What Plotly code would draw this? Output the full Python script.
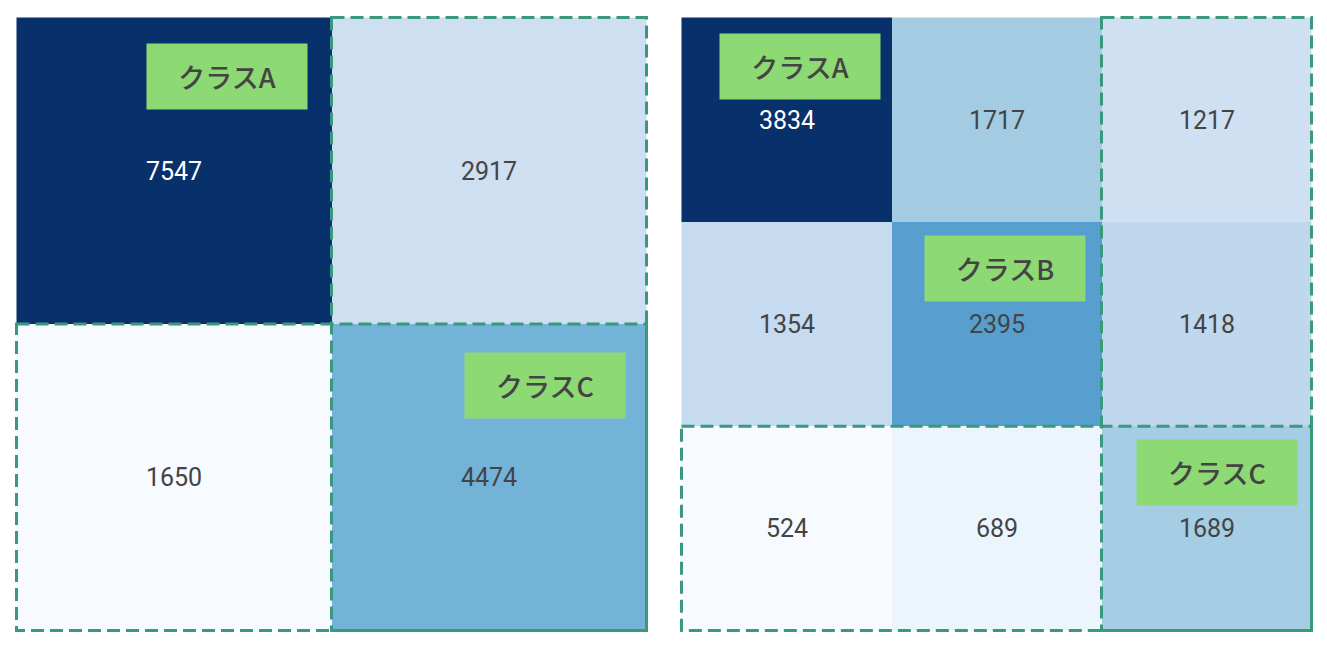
import plotly.graph_objects as go
from plotly.subplots import make_subplots

# Left matrix (2 classes)
left_labels = ["クラスA", "クラスC"]
left_values = [[7547, 2917],
               [1650, 4474]]
# Right matrix (3 classes)
right_labels = ["クラスA", "クラスB", "クラスC"]
right_values = [[3834, 1717, 1217],
                [1354, 2395, 1418],
                [524, 689, 1689]]

LINE = "#3a987c"
DASH = "13px,6px"
GREEN = "#8dd973"

fig = make_subplots(rows=1, cols=2, horizontal_spacing=0.02465)

def add_matrix(vals, labels, col, lab_dx, lab_dy):
    n = len(vals)
    fig.add_trace(go.Heatmap(
        z=vals, x=list(range(n)), y=list(range(n)),
        colorscale="Blues", showscale=False,
        texttemplate="%{z}", textfont=dict(size=25, family="Roboto"),
        hoverinfo="skip"), row=1, col=col)
    xref = "x" if col == 1 else f"x{col}"
    yref = "y" if col == 1 else f"y{col}"
    last = n - 1
    # dashed rectangle around last row
    fig.add_shape(type="rect", xref=xref, yref=yref,
                  x0=-0.5, x1=last + 0.5, y0=last - 0.5, y1=last + 0.5,
                  line=dict(color=LINE, width=3, dash=DASH), layer="above")
    # dashed rectangle around last column
    fig.add_shape(type="rect", xref=xref, yref=yref,
                  x0=last - 0.5, x1=last + 0.5, y0=-0.5, y1=last + 0.5,
                  line=dict(color=LINE, width=3, dash=DASH), layer="above")
    for i, lab in enumerate(labels):
        fig.add_annotation(xref=xref, yref=yref,
                           x=i + lab_dx[i], y=i + lab_dy[i],
                           text=lab, showarrow=False,
                           bgcolor=GREEN, width=160, height=65, borderpad=0,
                           font=dict(size=27, color="#444444", weight=500,
                                     family="Noto Sans CJK JP"))

add_matrix(left_values, left_labels, 1, [0.167, 0.178], [-0.307, -0.299])
add_matrix(right_values, right_labels, 2, [0.064, 0.040, 0.050], [-0.259, -0.27, -0.272])

for ax in ["xaxis", "xaxis2"]:
    fig.layout[ax].update(visible=False, showgrid=False, zeroline=False)
for ax in ["yaxis", "yaxis2"]:
    fig.layout[ax].update(visible=False, showgrid=False, zeroline=False, autorange="reversed")

fig.update_layout(width=1327, height=652,
                  margin=dict(l=7, r=22, t=8, b=28),
                  paper_bgcolor="white", plot_bgcolor="white",
                  showlegend=False)

fig.write_html("out.html")
